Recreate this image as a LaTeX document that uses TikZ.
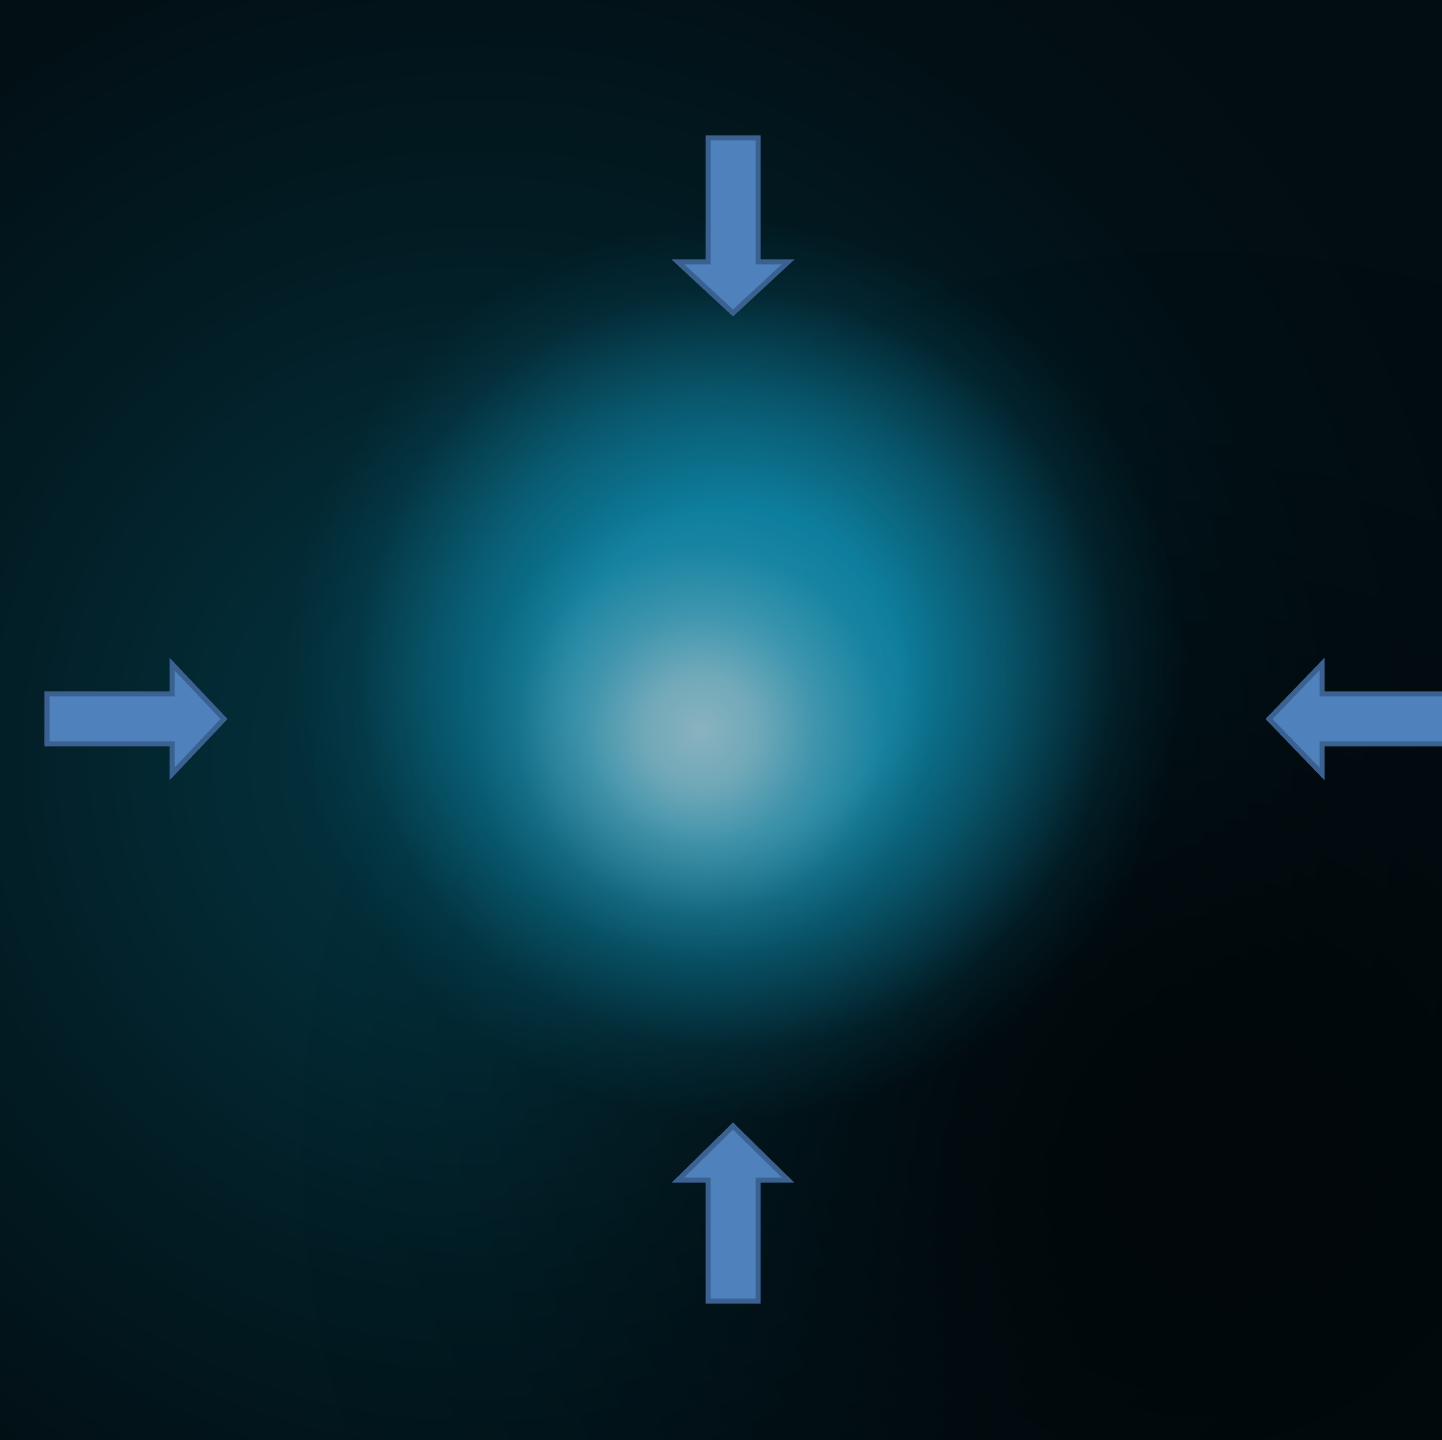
\documentclass[tikz,border=0pt]{standalone}
\usetikzlibrary{fadings}
\definecolor{bgbase}{HTML}{020D12}
\definecolor{haze}{HTML}{04333F}
\definecolor{darkspot}{HTML}{01070A}
\definecolor{glowc}{HTML}{0F87A8}
\definecolor{brightc}{HTML}{8AB3BF}
\definecolor{arrowfill}{HTML}{4F81BD}
\definecolor{arrowline}{HTML}{3B6191}
\pgfdeclareradialshading{softglowshade}{\pgfpoint{0bp}{0bp}}{%
  color(0bp)=(pgftransparent!0);
  color(6bp)=(pgftransparent!20);
  color(12.5bp)=(pgftransparent!60);
  color(20bp)=(pgftransparent!92);
  color(25bp)=(pgftransparent!100);
  color(50bp)=(pgftransparent!100)}
\pgfdeclarefading{softfade}{\pgfuseshading{softglowshade}}
\pgfdeclareradialshading{plateaushade}{\pgfpoint{0bp}{0bp}}{%
  color(0bp)=(pgftransparent!0);
  color(9bp)=(pgftransparent!8);
  color(15bp)=(pgftransparent!45);
  color(21bp)=(pgftransparent!88);
  color(25bp)=(pgftransparent!100);
  color(50bp)=(pgftransparent!100)}
\pgfdeclarefading{plateaufade}{\pgfuseshading{plateaushade}}
\tikzset{
  blockarrow/.style={fill=arrowfill, draw=arrowline, line width=0.05cm, line join=miter},
}
\begin{document}
\begin{tikzpicture}[x=0.01cm, y=-0.01cm]
  \useasboundingbox (0,0) rectangle (1442,1440);
  \clip (0,0) rectangle (1442,1440);
  % background
  \fill[bgbase] (0,0) rectangle (1442,1440);
  \fill[haze, path fading=softfade] (480,760) circle (1050);
  \fill[darkspot, path fading=softfade] (1200,1150) circle (900);
  \fill[glowc, path fading=plateaufade] (735,670) circle (450);
  \fill[brightc, path fading=softfade] (700,730) circle (230);
  % arrows
  \draw[blockarrow] (708,138) -- (758,138) -- (758,262) -- (788,262) -- (733,313)
    -- (678,262) -- (708,262) -- cycle;
  \draw[blockarrow] (708,1301) -- (758,1301) -- (758,1180) -- (788,1180) -- (733,1126)
    -- (678,1180) -- (708,1180) -- cycle;
  \draw[blockarrow] (47,694) -- (172,694) -- (172,664) -- (224,719) -- (172,774)
    -- (172,744) -- (47,744) -- cycle;
  \draw[blockarrow] (1460,694) -- (1322,694) -- (1322,664) -- (1269,719) -- (1322,774)
    -- (1322,744) -- (1460,744) -- cycle;
\end{tikzpicture}
\end{document}
